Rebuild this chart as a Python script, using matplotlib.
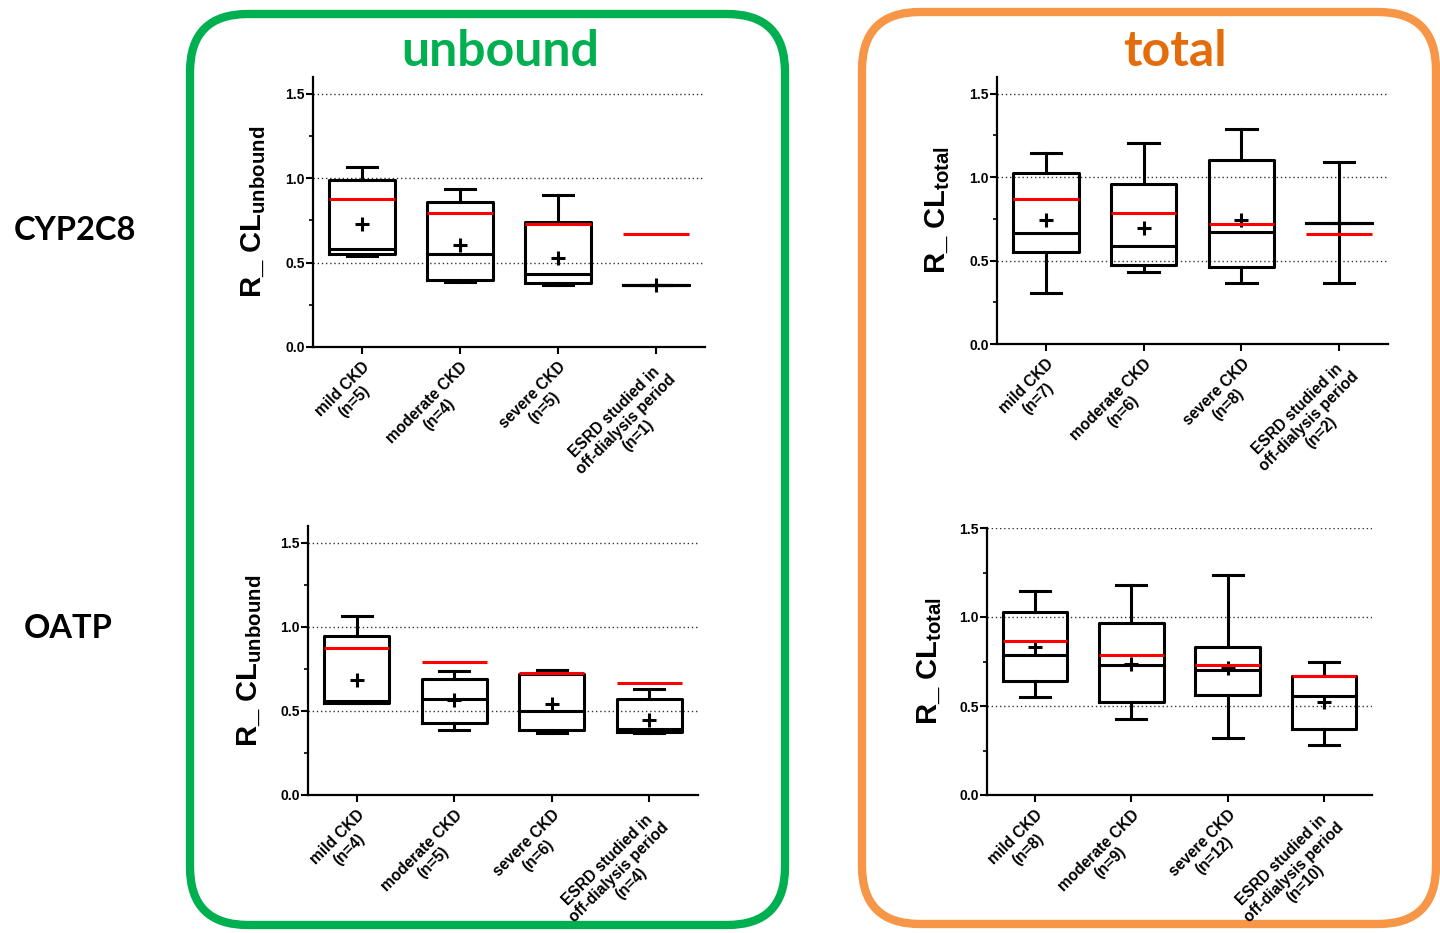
import matplotlib
matplotlib.use('Agg')
import matplotlib.pyplot as plt
from matplotlib.patches import FancyBboxPatch
from matplotlib.ticker import MultipleLocator, FormatStrFormatter

plt.rcParams['font.family'] = ['Liberation Sans', 'DejaVu Sans']
plt.rcParams['mathtext.fontset'] = 'custom'
plt.rcParams['mathtext.rm'] = 'Liberation Sans:bold'
plt.rcParams['mathtext.bf'] = 'Liberation Sans:bold'

## Data
groups = ['mild CKD', 'moderate CKD', 'severe CKD', 'ESRD studied in\noff-dialysis period']

# CYP2C8, unbound
cyp_u_n = [5, 4, 5, 1]
cyp_u_lo = [0.54, 0.386, 0.366, 0.366]
cyp_u_q1 = [0.55, 0.40, 0.38, 0.366]
cyp_u_med = [0.58, 0.554, 0.43, 0.366]
cyp_u_q3 = [0.99, 0.861, 0.738, 0.366]
cyp_u_hi = [1.065, 0.934, 0.898, 0.366]
cyp_u_mean = [0.728, 0.606, 0.53, 0.366]
cyp_u_red = [0.877, 0.794, 0.73, 0.669]

# CYP2C8, total
cyp_t_n = [7, 6, 8, 2]
cyp_t_lo = [0.303, 0.429, 0.367, 0.367]
cyp_t_q1 = [0.549, 0.473, 0.459, 0.728]
cyp_t_med = [0.668, 0.589, 0.674, 0.728]
cyp_t_q3 = [1.027, 0.958, 1.105, 0.728]
cyp_t_hi = [1.145, 1.203, 1.291, 1.091]
cyp_t_mean = [0.744, 0.694, 0.744, 0.728]
cyp_t_red = [0.870, 0.786, 0.720, 0.660]

# OATP, unbound
oatp_u_n = [4, 5, 6, 4]
oatp_u_lo = [0.545, 0.386, 0.369, 0.369]
oatp_u_q1 = [0.547, 0.426, 0.386, 0.377]
oatp_u_med = [0.557, 0.571, 0.499, 0.392]
oatp_u_q3 = [0.943, 0.688, 0.721, 0.571]
oatp_u_hi = [1.066, 0.739, 0.741, 0.630]
oatp_u_mean = [0.682, 0.563, 0.541, 0.448]
oatp_u_red = [0.874, 0.789, 0.725, 0.664]

# OATP, total
oatp_t_n = [8, 9, 12, 10]
oatp_t_lo = [0.552, 0.425, 0.318, 0.281]
oatp_t_q1 = [0.643, 0.524, 0.559, 0.368]
oatp_t_med = [0.789, 0.731, 0.701, 0.554]
oatp_t_q3 = [1.027, 0.965, 0.830, 0.666]
oatp_t_hi = [1.145, 1.178, 1.234, 0.746]
oatp_t_mean = [0.830, 0.737, 0.711, 0.520]
oatp_t_red = [0.864, 0.787, 0.729, 0.671]

W, H = 1440, 933
fig = plt.figure(figsize=(W / 100, H / 100), dpi=100)

# background layer in pixel units for the rounded frames and big labels
bg = fig.add_axes([0, 0, 1, 1], zorder=-1)
bg.set_xlim(0, W)
bg.set_ylim(H, 0)
bg.axis('off')
bg.add_patch(FancyBboxPatch((190, 14), 595, 911, boxstyle='round,pad=0,rounding_size=58',
                            fill=False, ec='#00b050', lw=6))
bg.add_patch(FancyBboxPatch((862, 12), 574, 912, boxstyle='round,pad=0,rounding_size=58',
                            fill=False, ec='#f79646', lw=6))
bg.text(500, 51, 'unbound', color='#00b050', fontsize=36, fontweight='bold',
        family=['Lato', 'DejaVu Sans'], ha='center', va='center')
bg.text(1175, 52, 'total', color='#e46c0a', fontsize=36, fontweight='bold',
        family=['Lato', 'DejaVu Sans'], ha='center', va='center')
bg.text(75, 230, 'CYP2C8', fontsize=23.5, fontweight='bold',
        family=['Lato', 'DejaVu Sans'], ha='center', va='center')
bg.text(68, 628, 'OATP', fontsize=23.5, fontweight='bold',
        family=['Lato', 'DejaVu Sans'], ha='center', va='center')


def panel(rect_px, ytop, n, lo, q1, med, q3, hi, mean, red, sub, lab_x):
    left, right, bottom, top = rect_px
    ax = fig.add_axes([left / W, 1 - bottom / H, (right - left) / W, (bottom - top) / H])
    pos = list(range(len(groups)))
    stats = []
    for i in pos:
        stats.append(dict(whislo=lo[i], q1=q1[i], med=med[i], q3=q3[i], whishi=hi[i],
                          mean=mean[i], fliers=[]))
    lp = dict(color='black', lw=2.2)
    ax.bxp(stats, positions=pos, widths=0.67, capwidths=0.31, showmeans=True,
           boxprops=lp, whiskerprops=lp, capprops=lp, medianprops=lp,
           meanprops=dict(marker='+', markersize=10, markeredgewidth=2.2, color='black',
                          markeredgecolor='black'))
    ax.hlines(red, [p - 0.335 for p in pos], [p + 0.335 for p in pos], color='red', lw=2.2, zorder=3)
    ax.set_xlim(-0.5, 3.5)
    ax.set_ylim(0, ytop)
    ax.yaxis.set_major_locator(MultipleLocator(0.5))
    ax.yaxis.set_minor_locator(MultipleLocator(0.25))
    ax.yaxis.set_major_formatter(FormatStrFormatter('%.1f'))
    ax.grid(axis='y', which='major', ls=(0, (1, 2)), color='#333333', lw=1)
    ax.set_axisbelow(True)
    for s in ['top', 'right']:
        ax.spines[s].set_visible(False)
    for s in ['left', 'bottom']:
        ax.spines[s].set_linewidth(1.6)
    ax.tick_params(which='major', length=5, width=1.5, labelsize=10, pad=1)
    ax.tick_params(which='minor', length=3, width=1.2)
    for t in ax.get_yticklabels():
        t.set_fontweight('bold')
    labels = [f'{g}\n(n={k})' for g, k in zip(groups, n)]
    ax.set_xticks(pos)
    ax.set_xticklabels(labels, rotation=45, ha='right', va='top', rotation_mode='anchor',
                       multialignment='center', fontsize=11.2, fontweight='bold',
                       linespacing=1.15)
    ax.tick_params(axis='x', pad=4)
    ax.set_ylabel('R_ CL$_{\\mathbf{' + sub + '}}$', fontsize=21, fontweight='bold')
    ax.yaxis.set_label_coords((lab_x - left) / (right - left), 0.5)
    return ax


panel((313, 705, 347, 77), 1.6, cyp_u_n, cyp_u_lo, cyp_u_q1, cyp_u_med, cyp_u_q3, cyp_u_hi,
      cyp_u_mean, cyp_u_red, 'unbound', 268)
panel((997, 1388, 344, 77), 1.6, cyp_t_n, cyp_t_lo, cyp_t_q1, cyp_t_med, cyp_t_q3, cyp_t_hi,
      cyp_t_mean, cyp_t_red, 'total', 952)
panel((308, 698, 795, 526), 1.6, oatp_u_n, oatp_u_lo, oatp_u_q1, oatp_u_med, oatp_u_q3, oatp_u_hi,
      oatp_u_mean, oatp_u_red, 'unbound', 264)
panel((987, 1372, 795, 528), 1.5, oatp_t_n, oatp_t_lo, oatp_t_q1, oatp_t_med, oatp_t_q3, oatp_t_hi,
      oatp_t_mean, oatp_t_red, 'total', 944)

fig.savefig('out.png', dpi=100)
